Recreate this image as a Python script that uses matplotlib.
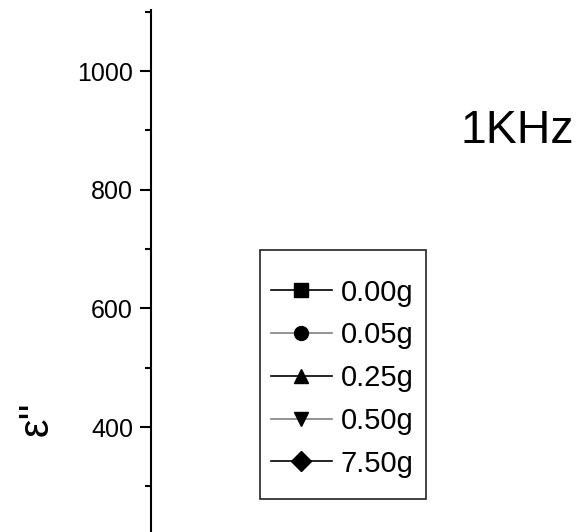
import matplotlib
matplotlib.use('Agg')
import matplotlib.pyplot as plt
from matplotlib.patches import Rectangle

plt.rcParams.update({'font.family': ['Liberation Sans', 'DejaVu Sans']})

# series shown in the legend (no data points fall in the visible window)
labels = ['0.00g', '0.05g', '0.25g', '0.50g', '7.50g']
markers = ['s', 'o', '^', 'v', 'D']
line_colors = ['black', '#808080', 'black', '#808080', 'black']
freq = []
eps_series = [[], [], [], [], []]

y_ticks = [400, 600, 800, 1000]
y_minor = [300, 500, 700, 900, 1100]
y_min, y_max = 223, 1103
freq_label = '1KHz'

W, H = 576, 532
fig = plt.figure(figsize=(W / 100, H / 100), dpi=100)
ax = fig.add_axes([151 / W, 0.0, 1 - 151 / W, 0.981])

for i in range(len(labels)):
    ax.plot(freq, eps_series[i], color=line_colors[i], marker=markers[i], markersize=10,
            markerfacecolor='black', markeredgecolor='black', linewidth=1.2, label=labels[i])

ax.set_ylim(y_min, y_max)
ax.set_yticks(y_ticks)
ax.set_yticks(y_minor, minor=True)
ax.tick_params(axis='y', which='major', direction='out', length=8, width=1.5, labelsize=18, pad=5)
ax.tick_params(axis='y', which='minor', direction='out', length=4, width=1.5)
for s in ['top', 'right', 'bottom']:
    ax.spines[s].set_visible(False)
ax.spines['left'].set_linewidth(1.5)
ax.set_xticks([])

ax.set_ylabel("ε''", fontsize=30)
ax.yaxis.set_label_coords((57 - 151) / (W - 151), (1 - 419 / H) / 0.981)

fig.text(461 / W, 1 - 143 / H, freq_label, fontsize=33.5, ha='left', va='baseline')

leg = ax.legend(loc='upper left', bbox_to_anchor=(259 / W, 1 - 267 / H),
                bbox_transform=fig.transFigure, fontsize=21, frameon=False,
                borderaxespad=0, borderpad=0.4, handlelength=2.1, handletextpad=0.3,
                labelspacing=0.505)

# legend box
fig.patches.append(Rectangle((260 / W, 1 - 499 / H), (426 - 260) / W, (499 - 250) / H,
                             transform=fig.transFigure, fill=False, edgecolor='#222222',
                             linewidth=1.2))

fig.savefig('out.png', dpi=100)
